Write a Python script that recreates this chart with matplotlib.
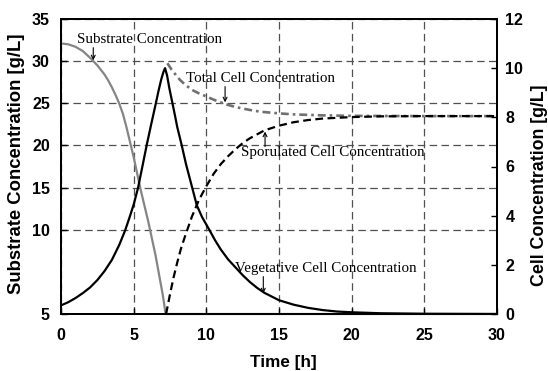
import matplotlib
matplotlib.use("Agg")
import matplotlib.pyplot as plt

# ---------------- data ----------------
t_sub = [0, 0.5, 1, 1.5, 2, 2.5, 3, 3.25, 3.5, 3.75, 4, 4.25, 4.5, 4.75, 5,
         5.25, 5.5, 6, 6.5, 7, 7.2, 30]
substrate = [32.1, 32.0, 31.7, 31.2, 30.4, 29.5, 28.4, 27.7, 26.9, 26.0,
             25.0, 23.8, 22.2, 20.4, 18.6, 16.6, 14.6, 11.0, 7.0, 2.3, 0.0, 0.0]

t_veg = [0, 0.5, 1, 1.5, 2, 2.5, 3, 3.5, 4, 4.4, 4.7, 5, 5.3, 5.6, 5.9, 6.2,
         6.5, 6.7, 6.9, 7.05, 7.16, 7.3, 7.45, 7.66, 7.85, 8.0, 8.3, 8.6, 8.8,
         9.0, 9.34, 9.7, 10.2, 10.6, 11, 11.5, 12, 12.5, 13, 13.5, 14, 15, 16,
         17, 18, 19, 20, 22, 25, 30]
vegetative = [0.35, 0.48, 0.65, 0.85, 1.08, 1.38, 1.75, 2.2, 2.8, 3.38,
              3.9, 4.45, 5.13, 6.0, 6.88, 7.7, 8.5, 9.05, 9.55, 9.85, 10.0,
              9.7, 9.2, 8.6, 8.05, 7.6, 6.88, 6.1, 5.65, 5.2, 4.43, 3.95, 3.43,
              3.0, 2.62, 2.22, 1.9, 1.58, 1.3, 1.06, 0.86, 0.56, 0.38, 0.25,
              0.16, 0.1, 0.07, 0.03, 0.01, 0.0]

t_spo = [7.23, 7.5, 7.75, 8, 8.25, 8.5, 9, 9.5, 10, 10.5, 11, 11.5, 12, 12.5,
         13, 14, 15, 16, 17, 18, 20, 22, 25, 30]
sporulated = [0.0, 0.8, 1.5, 2.1, 2.65, 3.1, 3.95, 4.65, 5.2, 5.7, 6.1, 6.42,
              6.7, 6.95, 7.15, 7.47, 7.66, 7.8, 7.89, 7.95, 8.01, 8.04, 8.05,
              8.05]

t_tot = [7.32, 7.6, 8.0, 8.19, 8.5, 9, 9.4, 9.8, 10.5, 11.29, 12, 13, 13.7,
         15, 16, 18, 20, 25, 30]
total = [10.2, 9.95, 9.65, 9.52, 9.35, 9.12, 9.0, 8.9, 8.72, 8.54, 8.42, 8.3,
         8.23, 8.16, 8.12, 8.08, 8.06, 8.05, 8.05]

x_ticks = [0, 5, 10, 15, 20, 25, 30]
left_ticks = [0, 10, 15, 20, 25, 30, 35]
left_ticklabels = ['5', '10', '15', '20', '25', '30', '35']
right_ticks = [0, 2, 4, 6, 8, 10, 12]

# ---------------- figure ----------------
fig = plt.figure(figsize=(5.48, 3.71), dpi=100)
ax = fig.add_subplot(111)
fig.subplots_adjust(left=61/548, right=497/548, bottom=57/371, top=352/371)
ax2 = ax.twinx()

tickfont = dict(family='Liberation Sans', weight='bold', size=11.5)
serif = dict(family='Liberation Serif', size=10.8)

ax.set_xlim(0, 30)
ax.set_ylim(0, 35)
ax2.set_ylim(0, 12)

ax.set_xticks(x_ticks)
ax.set_xticklabels([str(v) for v in x_ticks], fontdict=tickfont)
ax.set_yticks(left_ticks)
ax.set_yticklabels(left_ticklabels, fontdict=tickfont)
ax2.set_yticks(right_ticks)
ax2.set_yticklabels([str(v) for v in right_ticks], fontdict=tickfont)

ax.tick_params(axis='x', direction='in', length=4, width=1, pad=10)
ax.tick_params(axis='y', direction='in', length=4, width=1, pad=8)
ax2.tick_params(axis='y', direction='in', length=4, width=1, pad=6)

ax.grid(True, color='#505050', linestyle=(0, (6, 3.5)), linewidth=0.9)

for a in (ax, ax2):
    for s in a.spines.values():
        s.set_linewidth(1.4)

# curves
ax.plot(t_sub, substrate, color='#858585', lw=1.6, clip_on=False, zorder=3)
ax2.plot(t_veg, vegetative, color='black', lw=1.6, zorder=3)
ax2.plot(t_spo, sporulated, color='black', lw=1.6, linestyle=(0, (3.5, 2)), zorder=3)
ax2.plot(t_tot, total, color='#707070', lw=1.9, linestyle=(0, (3, 1.5, 1, 1.5)), zorder=2)

# labels
ax.set_xlabel('Time [h]', fontdict=dict(family='Liberation Sans', weight='bold', size=12.3))
ax.xaxis.set_label_coords(0.509, -0.139)
ax.set_ylabel('Substrate Concentration [g/L]',
              fontdict=dict(family='Liberation Sans', weight='bold', size=13.3))
ax.yaxis.set_label_coords(-0.083, 0.51)
ax2.set_ylabel('Cell Concentration [g/L]',
               fontdict=dict(family='Liberation Sans', weight='bold', size=12.8))
ax2.yaxis.set_label_coords(1.077, 0.437)

# annotations
arrow = dict(arrowstyle='->', color='black', lw=0.8, mutation_scale=7,
             shrinkA=0, shrinkB=0)
ax.text(1.1, 32.6, 'Substrate Concentration', va='center', ha='left', **serif)
ax.annotate('', xy=(2.22, 30.1), xytext=(2.22, 31.6), arrowprops=arrow)

ax2.text(8.6, 9.59, 'Total Cell Concentration', va='center', ha='left', **serif)
ax2.annotate('', xy=(11.29, 8.61), xytext=(11.29, 9.25), arrowprops=arrow)

ax2.text(12.37, 6.58, 'Sporulated Cell Concentration', va='center', ha='left', **serif)
ax2.annotate('', xy=(14.04, 7.42), xytext=(14.04, 6.81), arrowprops=arrow)

ax2.text(11.98, 1.86, 'Vegetative Cell Concentration', va='center', ha='left', **serif)
ax2.annotate('', xy=(13.92, 0.84), xytext=(13.92, 1.52), arrowprops=arrow)

fig.savefig('out.png', dpi=100)
